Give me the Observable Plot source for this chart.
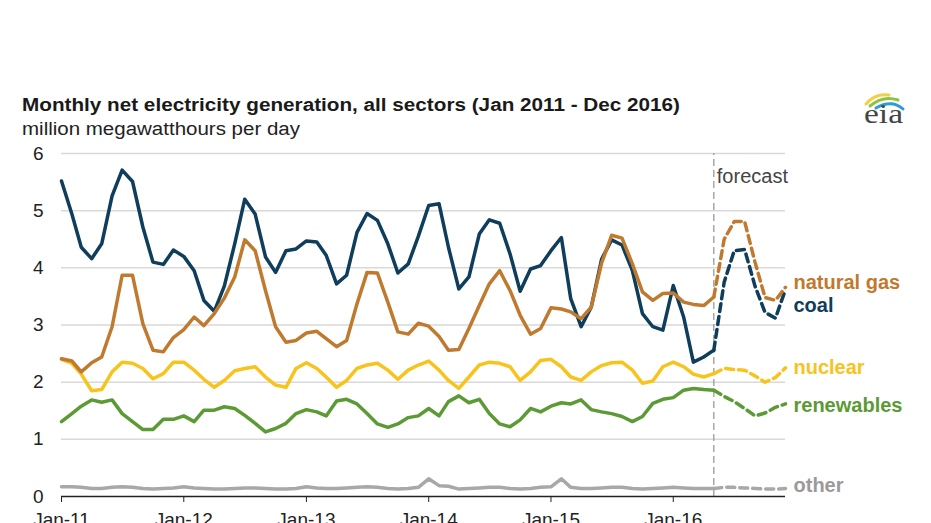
<!DOCTYPE html>
<html><head><meta charset="utf-8">
<script src="https://cdn.jsdelivr.net/npm/d3@7"></script>
<script src="https://cdn.jsdelivr.net/npm/@observablehq/plot@0.6"></script>
<style>
html,body{margin:0;padding:0;background:#fff;overflow:hidden;}
#chart{position:relative;width:931px;height:523px;overflow:hidden;}
</style></head><body><div id="chart"></div>
<script>
// Monthly net electricity generation, million MWh per day. History Jan 2011 - May 2016, forecast May - Dec 2016
const coalHist = [5.52,4.94,4.36,4.16,4.42,5.26,5.71,5.51,4.71,4.10,4.06,4.31,
  4.20,3.95,3.43,3.24,3.68,4.42,5.20,4.94,4.19,3.92,4.30,4.33,
  4.47,4.45,4.22,3.72,3.87,4.62,4.95,4.83,4.42,3.91,4.07,4.55,
  5.09,5.12,4.36,3.63,3.84,4.59,4.84,4.78,4.24,3.59,3.98,4.04,
  4.30,4.53,3.46,2.97,3.31,4.15,4.49,4.40,3.95,3.20,2.97,2.91,
  3.69,3.14,2.35,2.44,2.56];
const gasHist = [2.41,2.37,2.18,2.34,2.44,2.97,3.87,3.87,3.02,2.56,2.53,2.78,
  2.92,3.14,2.99,3.20,3.47,3.84,4.49,4.30,3.60,2.97,2.70,2.73,
  2.86,2.89,2.76,2.62,2.73,3.37,3.92,3.91,3.40,2.88,2.84,3.03,
  2.98,2.80,2.56,2.57,2.94,3.34,3.72,3.95,3.60,3.17,2.84,2.94,
  3.30,3.28,3.23,3.11,3.31,4.08,4.57,4.52,4.07,3.58,3.43,3.55,
  3.56,3.40,3.36,3.34,3.49];
const nuclearHist = [2.40,2.33,2.14,1.85,1.87,2.18,2.35,2.33,2.24,2.06,2.15,2.35,
  2.35,2.21,2.05,1.91,2.03,2.20,2.24,2.27,2.09,1.95,1.91,2.24,
  2.34,2.24,2.09,1.91,2.03,2.24,2.30,2.33,2.21,2.05,2.21,2.30,
  2.37,2.21,2.03,1.89,2.09,2.30,2.35,2.33,2.27,2.03,2.18,2.38,
  2.40,2.27,2.09,2.03,2.18,2.29,2.34,2.35,2.21,1.98,2.02,2.27,
  2.35,2.27,2.14,2.09,2.15];
const renewHist = [1.31,1.45,1.58,1.69,1.65,1.69,1.45,1.31,1.17,1.17,1.35,1.35,
  1.41,1.31,1.51,1.51,1.57,1.54,1.42,1.28,1.13,1.19,1.28,1.45,
  1.52,1.48,1.41,1.67,1.70,1.62,1.45,1.27,1.21,1.27,1.38,1.41,
  1.54,1.41,1.66,1.76,1.64,1.70,1.45,1.27,1.22,1.34,1.54,1.48,
  1.58,1.64,1.62,1.69,1.52,1.48,1.45,1.40,1.31,1.40,1.63,1.70,
  1.73,1.86,1.89,1.87,1.86];
const otherHist = [0.17,0.17,0.16,0.14,0.14,0.16,0.17,0.16,0.14,0.13,0.14,0.15,
  0.17,0.15,0.14,0.13,0.13,0.14,0.15,0.15,0.14,0.13,0.13,0.14,
  0.17,0.15,0.14,0.14,0.15,0.16,0.17,0.16,0.14,0.13,0.14,0.16,
  0.31,0.19,0.18,0.13,0.14,0.15,0.16,0.16,0.14,0.13,0.14,0.16,
  0.17,0.31,0.16,0.14,0.14,0.15,0.16,0.16,0.14,0.13,0.14,0.15,
  0.16,0.15,0.14,0.14,0.14];
// forecast, May 2016 (joins history) .. Dec 2016
const coalFcst = [2.56,3.75,4.30,4.32,3.68,3.22,3.12,3.62];
const gasFcst = [3.49,4.50,4.81,4.81,4.10,3.48,3.43,3.66];
const nuclearFcst = [2.15,2.24,2.22,2.21,2.11,2.00,2.08,2.25];
const renewFcst = [1.86,1.75,1.66,1.54,1.41,1.46,1.56,1.62];
const otherFcst = [0.14,0.16,0.16,0.15,0.14,0.13,0.13,0.14];

const seriesNames = ["other","renewables","nuclear","coal","natural gas"];
const seriesColors = {"coal":"#0f3d5c","natural gas":"#c07a30","nuclear":"#f8c31c","renewables":"#5b9a35","other":"#a8a8a8"};
const labelColors = {"coal":"#0f3d5c","natural gas":"#c07a30","nuclear":"#f8c31c","renewables":"#5b9a35","other":"#9a9a9a"};
const labelDy = {"coal":16.4,"natural gas":-5,"nuclear":-0.4,"renewables":2,"other":-2.7};
const yTicks = [0,1,2,3,4,5,6];
const xTickYears = [2011,2012,2013,2014,2015,2016];
const titleText = "Monthly net electricity generation, all sectors (Jan 2011 - Dec 2016)";
const subtitleText = "million megawatthours per day";
const forecastLabel = "forecast";

const histData = {"coal":coalHist,"natural gas":gasHist,"nuclear":nuclearHist,"renewables":renewHist,"other":otherHist};
const fcstData = {"coal":coalFcst,"natural gas":gasFcst,"nuclear":nuclearFcst,"renewables":renewFcst,"other":otherFcst};

const histMonths = d3.utcMonth.range(new Date(Date.UTC(2011,0,1)), new Date(Date.UTC(2016,5,1)));
const fcstMonths = d3.utcMonth.range(new Date(Date.UTC(2016,4,1)), new Date(Date.UTC(2017,0,1)));
const forecastStart = new Date(Date.UTC(2016,4,1));
const xTicks = xTickYears.map(y => new Date(Date.UTC(y,0,1)));

const marks = [
  Plot.gridY(yTicks.filter(d => d > 0), {stroke:"#d9d9d9", strokeOpacity:1, strokeWidth:1.5}),
  Plot.ruleX([forecastStart], {y1:0, y2:6, stroke:"#9a9a9a", strokeWidth:1.3, strokeDasharray:"7,4"}),
  Plot.text([forecastLabel], {x: () => forecastStart, y: () => 6, text: d => d, dx:3, dy:23.3, textAnchor:"start", fill:"#444", fontSize:20})
];
for (const s of seriesNames) {
  const h = histData[s].map((v,i) => ({date: histMonths[i], value: v}));
  const f = fcstData[s].map((v,i) => ({date: fcstMonths[i], value: v}));
  marks.push(Plot.line(h, {x:"date", y:"value", stroke: seriesColors[s], strokeWidth:3.5, strokeLinejoin:"round"}));
  marks.push(Plot.line(f, {x:"date", y:"value", stroke: seriesColors[s], strokeWidth:3.5, strokeDasharray:"8,5"}));
  const last = f[f.length-1];
  marks.push(Plot.text([last], {x:"date", y:"value", text: () => s, dx:8, dy: labelDy[s], textAnchor:"start", fill: labelColors[s], fontWeight:"bold", fontSize:20}));
}
marks.push(Plot.ruleY([0], {stroke:"#222", strokeWidth:1.5}));
marks.push(Plot.axisY(yTicks, {tickSize:0, tickPadding:18, fontSize:19, color:"#222", label:null, tickFormat: d => String(d)}));
marks.push(Plot.axisX(xTicks, {tickSize:6, tickPadding:10, fontSize:19, color:"#222", label:null,
  tickFormat: d => "Jan-" + String(d.getUTCFullYear()).slice(2)}));

const chart = Plot.plot({
  width: 931, height: 540,
  marginLeft: 61, marginRight: 146, marginTop: 153, marginBottom: 44,
  style: {fontFamily: "'Liberation Sans', Arial, sans-serif", background: "#fff", overflow: "visible"},
  x: {type:"utc", domain:[new Date(Date.UTC(2011,0,1)), new Date(Date.UTC(2016,11,1))], label:null},
  y: {domain:[0,6], label:null},
  marks
});

const svg = d3.select(chart);
svg.append("text").attr("x",22).attr("y",111).attr("text-anchor","start").attr("font-weight","bold").attr("font-size",18)
  .attr("fill","#1a1a1a").attr("textLength",658).attr("lengthAdjust","spacingAndGlyphs").text(titleText);
svg.append("text").attr("x",22).attr("y",135).attr("text-anchor","start").attr("font-size",18)
  .attr("fill","#222").attr("textLength",278).attr("lengthAdjust","spacingAndGlyphs").text(subtitleText);
const logo = svg.append("g");
logo.append("path").attr("d","M866,104 Q875,93 889,95").attr("fill","none").attr("stroke","#f3cf45").attr("stroke-width",3).attr("stroke-linecap","round");
logo.append("path").attr("d","M870,106 Q883,95 898,100").attr("fill","none").attr("stroke","#8cc43f").attr("stroke-width",3).attr("stroke-linecap","round");
logo.append("path").attr("d","M876,108 Q892,99 903,109").attr("fill","none").attr("stroke","#2f9ad4").attr("stroke-width",3).attr("stroke-linecap","round");
logo.append("text").attr("x",864).attr("y",122.5).attr("text-anchor","start").attr("font-family","'Liberation Serif', 'Times New Roman', serif")
  .attr("font-size",27).attr("fill","#444").attr("textLength",39).attr("lengthAdjust","spacingAndGlyphs").text("eia");

document.getElementById("chart").appendChild(chart);
</script></body></html>
